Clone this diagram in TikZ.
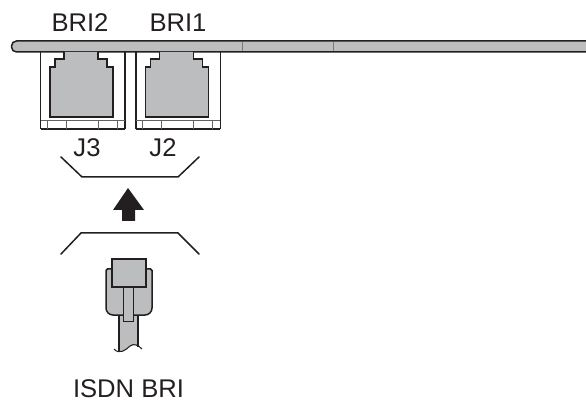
\documentclass[tikz,border=0pt]{standalone}
\usepackage{fontspec}
\setmainfont{Liberation Sans}
\usepackage{xcolor}
\definecolor{inkdark}{RGB}{35,31,32}
\definecolor{partgray}{RGB}{187,189,191}
\begin{document}
\begin{tikzpicture}[
    x=1pt, y=-1pt,
    label/.style={font=\fontsize{25.6}{28}\selectfont, text=inkdark, inner sep=0pt, anchor=base},
    outline/.style={draw=inkdark, line width=1.5pt, line join=miter},
    thinline/.style={draw=inkdark!70, line width=0.7pt},
    partfill/.style={outline, fill=partgray},
    bracket/.style={draw=inkdark, line width=1.5pt, line cap=round},
]
    \useasboundingbox (0,0) rectangle (586,403);

    % Panel bar
    \draw[partfill, rounded corners=5pt] (590,41) -- (11.5,41) -- (11.5,52) -- (590,52);
    \draw[draw=inkdark!60, line width=1pt] (242,42) -- (242,51);
    \draw[draw=inkdark!60, line width=1pt] (333,42) -- (333,51);

    % Jacks
    \foreach \dx/\leftw/\rightw in {0/0.7pt/1.5pt, 95.3/1.5pt/0.7pt} {
        \begin{scope}[xshift=\dx pt]
            \draw[draw=inkdark, line width=\leftw] (40.5,52) -- (40.5,129);
            \draw[draw=inkdark, line width=\rightw] (125,52) -- (125,129);
            \draw[outline] (40.5,129) -- (125,129);
            \draw[thinline] (40.5,120) -- (125,120);
            \foreach \tickx in {47,66,98.5,117} {
                \draw[thinline] (\tickx,120) -- (\tickx,129);
            }
            \draw[partfill] (64,52) -- (64,59) -- (55,59) -- (55,67) -- (50,67) -- (50,117)
                -- (113,117) -- (113,67) -- (107,67) -- (107,59) -- (98,59) -- (98,52);
        \end{scope}
    }

    % Labels
    \node[label] (bri2) at (80,31.5) {BRI2};
    \node[label] (bri1) at (178,31.5) {BRI1};
    \node[label] (j3) at (87,157) {J3};
    \node[label] (j2) at (163,157) {J2};
    \node[label] (isdn) at (128.5,397) {ISDN BRI};

    % Brackets and arrow
    \draw[bracket] (61,157) -- (82,177) -- (178,177) -- (199,157);
    \draw[bracket] (61,254) -- (81,233) -- (178,233) -- (199,254);
    \fill[inkdark] (128,188) -- (144,210) -- (135,210) -- (135,221)
        -- (122,221) -- (122,210) -- (113,210) -- cycle;

    % Plug
    \fill[partgray] (119,315) -- (119,351) .. controls (124,355) and (128,346) .. (134,345)
        .. controls (136,345) and (137,346) .. (138,347) -- (138,315) -- cycle;
    \draw[outline] (119,315) -- (119,351);
    \draw[outline] (138,315) -- (138,347);
    \draw[draw=inkdark, line width=1pt] (114,349) .. controls (119,355) and (126,350) .. (130,346)
        .. controls (134,343) and (138,345) .. (142,349);
    \draw[partfill] (112,269) [rounded corners=1.5pt] -- (106,269) [rounded corners=7pt] -- (106,315)
        -- (152,315) [rounded corners=1.5pt] -- (152,269) -- (146,269);
    \draw[partfill] (112,259) rectangle (146,287);
    \draw[draw=inkdark, line width=1pt, fill=partgray] (123,287) rectangle (133,321);
\end{tikzpicture}
\end{document}
